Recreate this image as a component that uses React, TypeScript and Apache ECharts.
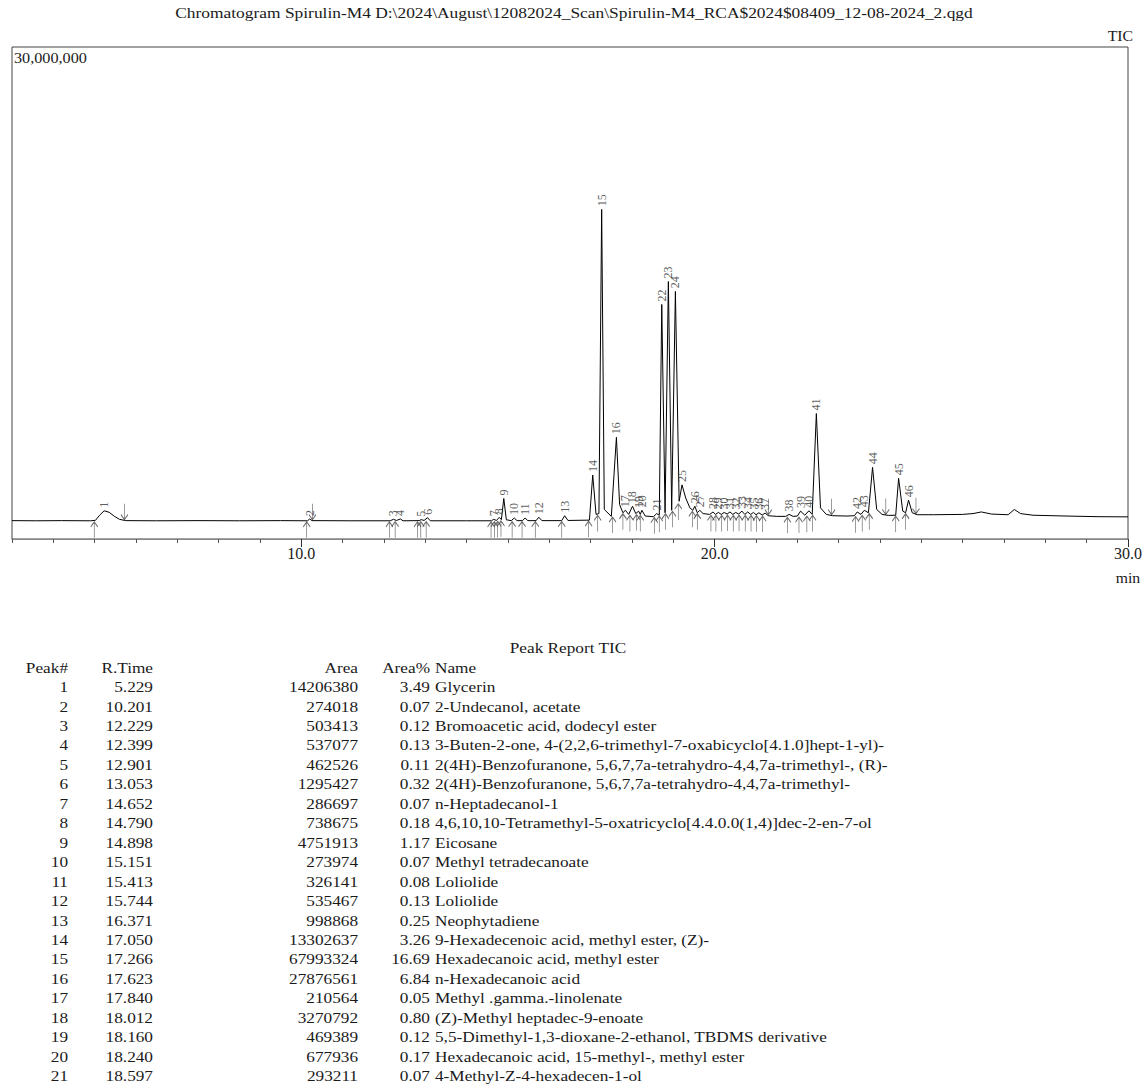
import React, { useEffect, useRef } from "react";
import * as echarts from "echarts";

const chartTitle =
  "Chromatogram Spirulin-M4 D:\\2024\\August\\12082024_Scan\\Spirulin-M4_RCA$2024$08409_12-08-2024_2.qgd";
const channelName = "TIC";
const yTopLabel = "30,000,000";
const xUnit = "min";
const xMajorTicks = [10, 20, 30];
const reportTitle = "Peak Report TIC";
const tableHeaders = ["Peak#", "R.Time", "Area", "Area%", "Name"];

// apex retention times (min) and apex intensities (millions of counts)
const peakTimes = [
  5.229, 10.201, 12.229, 12.399, 12.901, 13.053, 14.652, 14.79, 14.898, 15.151,
  15.413, 15.744, 16.371, 17.05, 17.266, 17.623, 17.84, 18.012, 18.16, 18.24,
  18.597, 18.72, 18.88, 19.05, 19.21, 19.52, 19.64, 19.96, 20.09, 20.23,
  20.37, 20.51, 20.66, 20.8, 20.94, 21.07, 21.22, 21.8, 22.08, 22.28,
  22.46, 23.45, 23.62, 23.82, 24.45, 24.69,
];
const peakHeights = [
  1.72, 1.22, 1.2, 1.22, 1.18, 1.3, 1.2, 1.32, 2.47, 1.28,
  1.28, 1.33, 1.42, 3.9, 20.1, 6.2, 1.75, 2.0, 1.7, 1.75,
  1.55, 14.3, 15.7, 15.1, 3.3, 2.0, 1.75, 1.65, 1.62, 1.62,
  1.65, 1.62, 1.7, 1.65, 1.62, 1.6, 1.58, 1.5, 1.7, 1.72,
  7.65, 1.65, 1.75, 4.37, 3.7, 2.37,
];
// baseline / valley points of the trace (min, millions)
const valleyPoints: [number, number][] = [
  [3.0, 1.12], [3.6, 1.11], [4.2, 1.12], [4.9, 1.11], [5.02, 1.14], [5.12, 1.45],
  [5.35, 1.63], [5.48, 1.38], [5.6, 1.2], [5.75, 1.12], [6.5, 1.11], [7.5, 1.12],
  [8.5, 1.11], [9.5, 1.12], [10.15, 1.11], [10.26, 1.12], [11.2, 1.11], [12.15, 1.11],
  [12.3, 1.13], [12.46, 1.11], [12.85, 1.12], [12.97, 1.13], [13.12, 1.11], [14.0, 1.11],
  [14.6, 1.11], [14.72, 1.13], [14.84, 1.18], [14.96, 1.17], [15.08, 1.12], [15.22, 1.12],
  [15.35, 1.12], [15.48, 1.12], [15.68, 1.12], [15.82, 1.12], [16.3, 1.12], [16.45, 1.13],
  [16.97, 1.15], [17.13, 1.5], [17.2, 1.55], [17.33, 1.8], [17.5, 1.38], [17.7, 2.1],
  [17.78, 1.6], [17.92, 1.5], [18.09, 1.55], [18.2, 1.5], [18.32, 1.4], [18.52, 1.36],
  [18.66, 1.45], [18.8, 1.6], [18.96, 1.75], [19.14, 2.3], [19.3, 2.5], [19.4, 1.9],
  [19.47, 1.75], [19.58, 1.6], [19.72, 1.55], [19.88, 1.5], [20.02, 1.5], [20.16, 1.5],
  [20.3, 1.52], [20.44, 1.5], [20.58, 1.52], [20.73, 1.5], [20.87, 1.5], [21.0, 1.48],
  [21.15, 1.46], [21.3, 1.42], [21.5, 1.38], [21.72, 1.38], [21.9, 1.38], [22.0, 1.4],
  [22.18, 1.45], [22.36, 1.5], [22.56, 1.9], [22.7, 1.5], [22.85, 1.42], [23.2, 1.4],
  [23.38, 1.42], [23.54, 1.5], [23.72, 1.6], [23.92, 1.8], [24.05, 1.5], [24.2, 1.44],
  [24.38, 1.45], [24.55, 1.7], [24.62, 1.6], [24.78, 1.6], [24.9, 1.48], [25.3, 1.48],
  [26.0, 1.5], [26.25, 1.55], [26.45, 1.65], [26.7, 1.52], [27.1, 1.48], [27.25, 1.8],
  [27.4, 1.55], [27.7, 1.45], [28.5, 1.4], [29.3, 1.36], [30.0, 1.35],
];
// integration markers: peak start (up arrows) and peak end (down arrows)
const upArrows: [number, number][] = [
  [4.99, 1.11], [10.13, 1.11], [12.13, 1.11], [12.27, 1.12], [12.81, 1.11], [12.89, 1.12],
  [13.02, 1.12], [14.59, 1.11], [14.67, 1.12], [14.75, 1.13], [14.83, 1.17], [15.1, 1.12],
  [15.34, 1.12], [15.66, 1.12], [16.3, 1.12], [16.95, 1.15], [17.17, 1.5], [17.53, 1.4],
  [17.78, 1.6], [17.95, 1.5], [18.11, 1.55], [18.2, 1.5], [18.54, 1.36], [18.66, 1.45],
  [18.81, 1.6], [18.98, 1.75], [19.12, 2.2], [19.46, 1.75], [19.58, 1.6], [19.91, 1.5],
  [20.03, 1.5], [20.17, 1.5], [20.31, 1.52], [20.45, 1.5], [20.59, 1.52], [20.74, 1.5],
  [20.88, 1.5], [21.01, 1.48], [21.16, 1.46], [21.76, 1.38], [22.04, 1.4], [22.23, 1.45],
  [22.37, 1.5], [23.41, 1.42], [23.57, 1.5], [23.74, 1.6], [24.38, 1.45], [24.62, 1.6],
];
const downArrows: [number, number][] = [
  [5.72, 1.12], [10.27, 1.12], [21.3, 1.42], [22.83, 1.42], [24.14, 1.44], [24.87, 1.48],
];

// peak report table (first 21 rows)
const tablePeakNo = [1, 2, 3, 4, 5, 6, 7, 8, 9, 10, 11, 12, 13, 14, 15, 16, 17, 18, 19, 20, 21];
const tableRTime = [
  "5.229", "10.201", "12.229", "12.399", "12.901", "13.053", "14.652", "14.790", "14.898", "15.151",
  "15.413", "15.744", "16.371", "17.050", "17.266", "17.623", "17.840", "18.012", "18.160", "18.240", "18.597",
];
const tableArea = [
  "14206380", "274018", "503413", "537077", "462526", "1295427", "286697", "738675", "4751913", "273974",
  "326141", "535467", "998868", "13302637", "67993324", "27876561", "210564", "3270792", "469389", "677936", "293211",
];
const tableAreaPct = [
  "3.49", "0.07", "0.12", "0.13", "0.11", "0.32", "0.07", "0.18", "1.17", "0.07",
  "0.08", "0.13", "0.25", "3.26", "16.69", "6.84", "0.05", "0.80", "0.12", "0.17", "0.07",
];
const tableName = [
  "Glycerin",
  "2-Undecanol, acetate",
  "Bromoacetic acid, dodecyl ester",
  "3-Buten-2-one, 4-(2,2,6-trimethyl-7-oxabicyclo[4.1.0]hept-1-yl)-",
  "2(4H)-Benzofuranone, 5,6,7,7a-tetrahydro-4,4,7a-trimethyl-, (R)-",
  "2(4H)-Benzofuranone, 5,6,7,7a-tetrahydro-4,4,7a-trimethyl-",
  "n-Heptadecanol-1",
  "4,6,10,10-Tetramethyl-5-oxatricyclo[4.4.0.0(1,4)]dec-2-en-7-ol",
  "Eicosane",
  "Methyl tetradecanoate",
  "Loliolide",
  "Loliolide",
  "Neophytadiene",
  "9-Hexadecenoic acid, methyl ester, (Z)-",
  "Hexadecanoic acid, methyl ester",
  "n-Hexadecanoic acid",
  "Methyl .gamma.-linolenate",
  "(Z)-Methyl heptadec-9-enoate",
  "5,5-Dimethyl-1,3-dioxane-2-ethanol, TBDMS derivative",
  "Hexadecanoic acid, 15-methyl-, methyl ester",
  "4-Methyl-Z-4-hexadecen-1-ol",
];

const FONT = "'Liberation Serif', 'Times New Roman', serif";
const TXT = "#1a1a1a";

export default function App() {
  const ref = useRef<HTMLDivElement>(null);

  useEffect(() => {
    if (!ref.current) return;
    const chart = echarts.init(ref.current, undefined, { renderer: "svg" });

    const M = 1e6;
    const trace = [
      ...valleyPoints.map(([t, v]) => [t, v * M]),
      ...peakTimes.map((t, i) => [t, peakHeights[i] * M]),
    ].sort((a, b) => a[0] - b[0]);

    const labelData = peakTimes.map((t, i) => ({
      value: [t, peakHeights[i] * M],
      name: String(i + 1),
    }));

    const fs = 15;
    const sx = 1.15;
    const colX = [68, 153, 358, 430, 435];
    const colAlign = ["right", "right", "right", "right", "left"];
    const rowY0 = 687;
    const rowH = 19.45;
    const graphics: any[] = [];
    const txt = (text: string, x: number, y: number, align: string, size = fs, scaleX = sx) => ({
      type: "text",
      x,
      y,
      scaleX,
      silent: true,
      style: {
        text,
        fill: TXT,
        fontSize: size,
        fontFamily: FONT,
        align,
        verticalAlign: "middle",
      },
    });
    graphics.push(txt(chartTitle, 574, 13, "center", 15, 1.16));
    graphics.push(txt(channelName, 1133, 36, "right", 15, 1.05));
    graphics.push(txt(yTopLabel, 14, 58, "left", 15, 1.08));
    graphics.push(txt(xUnit, 1128, 578, "center", 15, 1.05));
    graphics.push(txt(reportTitle, 568, rowY0 - 2 * rowH, "center"));
    tableHeaders.forEach((h, c) => graphics.push(txt(h, colX[c], rowY0 - rowH, colAlign[c])));
    tablePeakNo.forEach((p, r) => {
      const y = rowY0 + r * rowH;
      graphics.push(txt(String(p), colX[0], y, "right"));
      graphics.push(txt(tableRTime[r], colX[1], y, "right"));
      graphics.push(txt(tableArea[r], colX[2], y, "right"));
      graphics.push(txt(tableAreaPct[r], colX[3], y, "right"));
      graphics.push(txt(tableName[r], colX[4], y, "left"));
    });

    const arrowStyle = {
      color: "transparent",
      borderColor: "#444",
      borderWidth: 1,
    };

    chart.setOption({
      animation: false,
      backgroundColor: "#fff",
      grid: {
        left: 12,
        right: 16,
        top: 47,
        bottom: 1086 - 539,
        show: true,
        borderColor: "#444",
        borderWidth: 1,
      },
      xAxis: [
        {
          type: "value",
          min: 3,
          max: 30,
          interval: 1,
          position: "bottom",
          axisLine: { show: true, lineStyle: { color: "#888", width: 1 } },
          axisTick: { show: true, inside: false, length: 4, lineStyle: { color: "#555" } },
          axisLabel: { show: false },
          splitLine: { show: false },
        },
        {
          type: "value",
          min: 3,
          max: 30,
          position: "bottom",
          axisLine: { show: false },
          axisTick: {
            show: true,
            length: 8,
            customValues: xMajorTicks,
            lineStyle: { color: "#333" },
          },
          axisLabel: {
            show: true,
            customValues: xMajorTicks,
            formatter: (v: number) => v.toFixed(1),
            fontSize: 16,
            fontFamily: FONT,
            color: TXT,
            margin: 6,
          },
          splitLine: { show: false },
        },
      ],
      yAxis: {
        type: "value",
        min: 0,
        max: 30 * M,
        show: false,
        splitLine: { show: false },
      },
      series: [
        {
          type: "scatter",
          xAxisIndex: 0,
          data: upArrows.map(([t, v]) => [t, v * M]),
          symbol: "path://M4,0 L4,16 M0,5 L4,0 L8,5",
          symbolSize: [7, 16],
          symbolOffset: [0, 9],
          itemStyle: arrowStyle,
          silent: true,
          z: 2,
        },
        {
          type: "scatter",
          xAxisIndex: 0,
          data: downArrows.map(([t, v]) => [t, v * M]),
          symbol: "path://M4,16 L4,0 M0,11 L4,16 L8,11",
          symbolSize: [7, 16],
          symbolOffset: [0, -9],
          itemStyle: arrowStyle,
          silent: true,
          z: 2,
        },
        {
          type: "line",
          xAxisIndex: 0,
          data: trace,
          showSymbol: false,
          symbol: "none",
          lineStyle: { color: "#000", width: 1 },
          silent: true,
          z: 3,
        },
        {
          type: "scatter",
          xAxisIndex: 0,
          data: labelData,
          symbolSize: 0,
          silent: true,
          z: 4,
          label: {
            show: true,
            formatter: (p: any) => p.name,
            position: "top",
            distance: 3,
            rotate: 90,
            align: "left",
            verticalAlign: "middle",
            fontSize: 12,
            fontFamily: FONT,
            color: "#333",
          },
        },
      ],
      graphic: graphics,
    });

    return () => chart.dispose();
  }, []);

  return (
    <div
      ref={ref}
      style={{ position: "fixed", left: 0, top: 0, width: 1145, height: 1086, background: "#fff" }}
    />
  );
}
